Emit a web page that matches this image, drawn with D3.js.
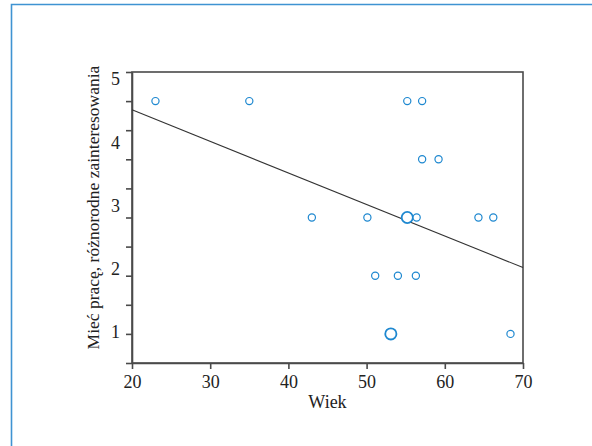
<!DOCTYPE html>
<html>
<head>
<meta charset="utf-8">
<script src="https://cdn.jsdelivr.net/npm/d3@7"></script>
<style>
  body { margin: 0; background: #fff; }
  svg { display: block; font-family: "Liberation Serif", "Times New Roman", serif; }
</style>
</head>
<body>
<svg id="chart"></svg>
<script>
// Wiek vs. "Mieć pracę, różnorodne zainteresowania"
var ages   = [23, 35, 55.2, 57.1, 57.1, 59.2, 43, 50.1, 55.2, 56.4, 64.3, 66.2, 51.1, 54, 56.3, 53.1, 68.4];
var scores = [5, 5, 5, 5, 4, 4, 3, 3, 3, 3, 3, 3, 2, 2, 2, 1, 1];
var counts = [1, 1, 1, 1, 1, 1, 1, 1, 2, 1, 1, 1, 1, 1, 1, 2, 1];
var fitAges   = [20, 70];
var fitScores = [4.85, 2.14];
var xTicks = [20, 30, 40, 50, 60, 70];
var yTicks = [0.5, 1, 1.5, 2, 2.5, 3, 3.5, 4, 4.5, 5, 5.5];
var yLabels = [1, 2, 3, 4, 5];

var width = 592;
var height = 446;
var plotLeft = 132, plotRight = 523, plotTop = 72, plotBottom = 363;
var blue = "#1e88d0";
var axisColor = "#4a4a4a";

var svg = d3.select("#chart")
    .attr("width", width)
    .attr("height", height);

// page frame
svg.append("path")
    .attr("d", "M11.5," + height + "V4.5H" + width)
    .attr("fill", "none")
    .attr("stroke", "#3f93d2")
    .attr("stroke-width", 1.6);

var xScale = d3.scaleLinear().domain([20, 70]).range([plotLeft, plotRight]);
var yScale = d3.scaleLinear().domain([0.5, 5.5]).range([plotBottom, plotTop]);
// the printed labels drift away from the ticks in the original
var yLabelScale = d3.scaleLinear().domain([1, 5]).range([332, 79]);

// plot box
svg.append("rect")
    .attr("x", plotLeft)
    .attr("y", plotTop)
    .attr("width", plotRight - plotLeft)
    .attr("height", plotBottom - plotTop)
    .attr("fill", "none")
    .attr("stroke", axisColor)
    .attr("stroke-width", 1.6);

var xAxis = d3.axisBottom(xScale)
    .tickValues(xTicks)
    .tickFormat(d3.format("d"))
    .tickSize(6)
    .tickSizeOuter(0)
    .tickPadding(6);

var yAxis = d3.axisLeft(yScale)
    .tickValues(yTicks)
    .tickFormat("")
    .tickSize(6)
    .tickSizeOuter(0);

var yLabelAxis = d3.axisLeft(yLabelScale)
    .tickValues(yLabels)
    .tickFormat(d3.format("d"))
    .tickSize(0)
    .tickPadding(12);

var gx = svg.append("g")
    .attr("transform", "translate(0," + plotBottom + ")")
    .call(xAxis);
gx.attr("font-family", null);
gx.selectAll("path, line").attr("stroke", axisColor).attr("stroke-width", 1.6);
gx.selectAll("text").style("font-size", "18px").attr("fill", "#222");

var gy = svg.append("g")
    .attr("transform", "translate(" + plotLeft + ",0)")
    .call(yAxis);
gy.selectAll("path, line").attr("stroke", axisColor).attr("stroke-width", 1.6);

var gl = svg.append("g")
    .attr("transform", "translate(" + plotLeft + ",0)")
    .call(yLabelAxis);
gl.attr("font-family", null);
gl.select(".domain").remove();
gl.selectAll("text").style("font-size", "18px").attr("fill", "#222");

// fit line
svg.append("line")
    .attr("x1", xScale(fitAges[0]))
    .attr("y1", yScale(fitScores[0]))
    .attr("x2", xScale(fitAges[1]))
    .attr("y2", yScale(fitScores[1]))
    .attr("stroke", "#333")
    .attr("stroke-width", 1.1);

// points
svg.append("g")
  .selectAll("circle")
  .data(ages)
  .join("circle")
    .attr("cx", d => xScale(d))
    .attr("cy", (d, i) => yScale(scores[i]))
    .attr("r", (d, i) => counts[i] > 1 ? 5.6 : 3.6)
    .attr("fill", "#fff")
    .attr("stroke", blue)
    .attr("stroke-width", (d, i) => counts[i] > 1 ? 1.8 : 1.2);

// axis titles
svg.append("text")
    .attr("x", (plotLeft + plotRight) / 2)
    .attr("y", 408)
    .attr("text-anchor", "middle")
    .style("font-size", "18px")
    .attr("fill", "#222")
    .text("Wiek");

svg.append("text")
    .attr("transform", "translate(99,207.5) rotate(-90)")
    .attr("text-anchor", "middle")
    .style("font-size", "17.5px")
    .attr("fill", "#222")
    .text("Mieć pracę, różnorodne zainteresowania");
</script>
</body>
</html>
